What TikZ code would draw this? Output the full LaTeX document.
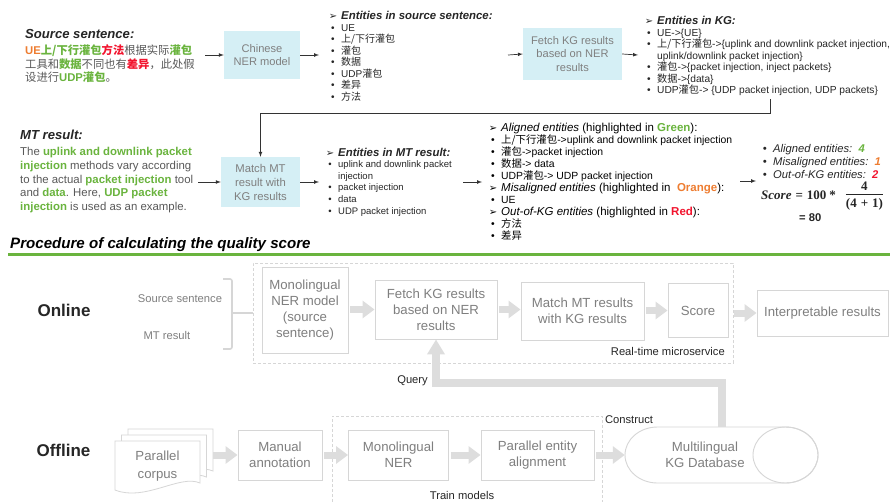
\documentclass[tikz,border=0pt]{standalone}
\usepackage{fontspec}
\setmainfont{Liberation Sans}
\newfontfamily\cjk{Noto Sans CJK SC}
\newfontfamily\dejavu{DejaVu Sans}
\newfontfamily\serifb{Liberation Serif}
\usetikzlibrary{arrows,arrows.meta,calc}
\definecolor{hl01}{HTML}{6AB43E}
\definecolor{hl02}{HTML}{EE7D31}
\definecolor{hl03}{HTML}{F2142E}
\definecolor{gy01}{HTML}{7F7F7F}
\definecolor{gy02}{HTML}{D6D6D6}
\definecolor{gy03}{HTML}{DDDDDD}
\definecolor{gy04}{HTML}{595959}
\definecolor{gy05}{HTML}{262626}
\definecolor{cy01}{HTML}{D5EFF5}
\newcommand{\fs}[2]{\fontsize{#1}{#2}\selectfont}
\newcommand{\zh}[1]{{\cjk #1}}
\newcommand{\zhc}[2]{{\cjk\bfseries\color{#1}#2}}
\newcommand{\gb}[1]{{\color{hl01}\bfseries #1}}
\newcommand{\hd}{\llap{{\dejavu\fs{10}{10}➢}\hspace{4pt}}}
\newcommand{\itm}{\llap{\textbullet\hspace{6.5pt}}}
\newcommand{\hdr}[2]{{\fs{11.5}{12}\textit{#1} #2}}
\tikzset{
  cyanbox/.style={rectangle, fill=cy01, text=gy01, align=center, font=\fs{11.1}{13.5}},
  greybox/.style={rectangle, draw=gy02, line width=0.9pt, fill=white, text=gy01, align=center, font=\fs{13.2}{16}},
  txtblock/.style={anchor=base west, align=left, inner sep=0pt},
  lbl/.style={font=\fs{11.2}{12}, text=gy05, inner sep=0pt},
  flowarr/.style={->, >=latex, line width=0.7pt, black!80},
  blockarr/.style={-{Triangle[length=12pt,width=17pt]}, line width=7pt, gy03},
  dashbox/.style={draw=gy02, line width=0.8pt, dash pattern=on 3pt off 2pt},
  docsheet/.style={draw=gy02, line width=0.8pt, fill=white},
}
\begin{document}
\begin{tikzpicture}[x=1pt,y=-1pt]
  \useasboundingbox (0,0) rectangle (890,501);
  \fill[white] (0,0) rectangle (890,501);

  % worked example, source side (text blocks sit on their last baseline)
  \node[txtblock, font=\fs{13.1}{14}\bfseries\itshape, text=gy05] (srchead) at (25,38) {Source sentence:};
  \node[txtblock, font=\fs{11.3}{13.5}, text=gy04] (srctxt) at (25,81.5)
    {{\color{hl02}\bfseries UE}\zhc{hl01}{上/下行灌包}\zhc{hl03}{方法}\zh{根据实际}\zhc{hl01}{灌包}\\
     \zh{工具和}\zhc{hl01}{数据}\zh{不同也有}\zhc{hl03}{差异}\zh{，此处假}\\
     \zh{设进行}{\color{hl01}\bfseries UDP}\zhc{hl01}{灌包}\zh{。}};
  \node[cyanbox, minimum width=76pt, minimum height=48pt] (ner) at (262,55) {Chinese\\NER model};
  \node[txtblock, font=\fs{10}{11.5}, text=gy05] (srcents) at (341,100)
    {\hd{\fs{11.4}{12}\bfseries\itshape Entities in source sentence:}\\
     \itm UE\\
     \itm\zh{上/下行灌包}\\
     \itm\zh{灌包}\\
     \itm\zh{数据}\\
     \itm UDP\zh{灌包}\\
     \itm\zh{差异}\\
     \itm\zh{方法}};
  \node[cyanbox, minimum width=99pt, minimum height=52pt] (fetch) at (572.5,54) {Fetch KG results\\based on NER\\results};
  \node[txtblock, font=\fs{10.2}{11.5}, text=gy05] (kgents) at (657,93.5)
    {\hd{\fs{11.4}{12}\bfseries\itshape Entities in KG:}\\
     \itm UE->\{UE\}\\
     \itm\zh{上/下行灌包}->\{uplink and downlink packet injection,\\
     uplink/downlink packet injection\}\\
     \itm\zh{灌包}->\{packet injection, inject packets\}\\
     \itm\zh{数据}->\{data\}\\
     \itm UDP\zh{灌包}-> \{UDP packet injection, UDP packets\}};

  % worked example, MT side
  \node[txtblock, font=\fs{13.1}{14}\bfseries\itshape, text=gy05] (mthead) at (20,139.5) {MT result:};
  \node[txtblock, font=\fs{11.4}{13.7}, text=gy04] (mttxt) at (20,210.5)
    {The \gb{uplink and downlink packet}\\
     \gb{injection} methods vary according\\
     to the actual \gb{packet injection} tool\\
     and \gb{data}. Here, \gb{UDP packet}\\
     \gb{injection} is used as an example.};
  \node[cyanbox, minimum width=79pt, minimum height=50pt, font=\fs{11.3}{14}] (match) at (260.5,182) {Match MT\\result with\\KG results};
  \node[txtblock, font=\fs{9.5}{11.6}, text=gy05] (mtents) at (338,214)
    {\hd{\fs{11.4}{12}\bfseries\itshape Entities in MT result:}\\
     \itm uplink and downlink packet\\
     injection\\
     \itm packet injection\\
     \itm data\\
     \itm UDP packet injection};
  \node[txtblock, font=\fs{10.4}{11.9}, text=black] (aligned) at (501,239)
    {\hd\hdr{Aligned entities}{(highlighted in {\color{hl01}\bfseries Green}):}\\
     \itm\zh{上/下行灌包}->uplink and downlink packet injection\\
     \itm\zh{灌包}->packet injection\\
     \itm\zh{数据}-> data\\
     \itm UDP\zh{灌包}-> UDP packet injection\\
     \hd\hdr{Misaligned entities}{(highlighted in\ \ {\color{hl02}\bfseries Orange}):}\\
     \itm UE\\
     \hd\hdr{Out-of-KG entities}{(highlighted in {\color{hl03}\bfseries Red}):}\\
     \itm\zh{方法}\\
     \itm\zh{差异}};
  \node[txtblock, font=\fs{11.2}{13.3}\itshape, text=gy05] (counts) at (773,178.6)
    {\itm Aligned entities:\ \ {\color{hl01}\bfseries 4}\\
     \itm Misaligned entities:\ \ {\color{hl02}\bfseries 1}\\
     \itm Out-of-KG entities:\ \ {\color{hl03}\bfseries 2}};
  \node[anchor=west, inner sep=0pt, text=gy05, font=\serifb\fs{13}{14}\bfseries] (formula) at (761,196)
    {\textit{Score}\hspace{4pt}=\hspace{4pt}100\hspace{3pt}*\hspace{10pt}\begin{tabular}{@{}c@{}}4\\[-1pt]\hline\rule{0pt}{13pt}(4\hspace{4pt}+\hspace{4pt}1)\end{tabular}};
  \node[txtblock, font=\fs{11.2}{13}\bfseries, text=gy05] (total) at (799,221) {= 80};

  \coordinate (srcout) at (205,55);
  \coordinate (srcin) at (319,55);
  \coordinate (srcout2) at (508,55);
  \coordinate (kgin) at (638,55);
  \coordinate (kgtap) at (770,99);
  \coordinate (mtout) at (198,182);
  \coordinate (mtin) at (319,182);
  \coordinate (mtout2) at (463,182);
  \coordinate (alin) at (482,182);
  \coordinate (alout) at (740,181);
  \coordinate (scin) at (756,181);
  \draw[flowarr] (srcout) -- (ner.west);
  \draw[flowarr] (ner.east) -- (srcin);
  \draw[flowarr] (srcout2) -- (fetch.west);
  \draw[flowarr] (fetch.east) -- (kgin);
  \draw[flowarr] (kgtap) -- ++(0,14) -| (match.north);
  \draw[flowarr] (mtout) -- (match.west);
  \draw[flowarr] (match.east) -- (mtin);
  \draw[flowarr] (mtout2) -- (alin);
  \draw[flowarr] (alout) -- (scin);

  % procedure
  \node[txtblock, font=\fs{15.1}{16}\bfseries\itshape, text=black] (title) at (10,248.5) {Procedure of calculating the quality score};
  \draw[line width=2.6pt, hl01] (8,254.5) -- (890,254.5);

  \node[font=\fs{17}{18}\bfseries, text=gy05] (online) at (64,310) {Online};
  \node[font=\fs{11.2}{12}, text=gy01] (insrc) at (180,299) {Source sentence};
  \node[font=\fs{11.2}{12}, text=gy01] (inmt) at (167,335) {MT result};
  \node[dashbox, minimum width=480pt, minimum height=100pt, inner sep=0pt] (rtbox) at (493,313) {};
  \coordinate (brc) at (232,313);
  \draw[gy02, line width=1.6pt, rounded corners=2pt] (223,279) -| (brc) |- (223,349);
  \draw[gy02, line width=1.6pt] (brc) -- (rtbox.west);

  \node[greybox, minimum width=86pt, minimum height=86pt] (mono) at (305,310) {Monolingual\\NER model\\(source\\sentence)};
  \node[greybox, minimum width=122pt, minimum height=59pt] (fetch2) at (436,309.5) {Fetch KG results\\based on NER\\results};
  \node[greybox, minimum width=123pt, minimum height=58pt] (match2) at (582.5,311) {Match MT results\\with KG results};
  \node[greybox, minimum width=60pt, minimum height=54pt] (score2) at (698,310.5) {Score};
  \node[greybox, minimum width=131pt, minimum height=46pt] (interp) at (822.5,313) {Interpretable results};
  \node[lbl, anchor=base east] (rtlbl) at (725,355) {Real-time microservice};

  \draw[blockarr, shorten <=2pt] (mono.east |- fetch2.west) -- (fetch2.west);
  \draw[blockarr, shorten <=2pt] (fetch2.east) -- (fetch2.east -| match2.west);
  \draw[blockarr, shorten <=2pt] (match2.east |- score2.west) -- (score2.west);
  \draw[blockarr, shorten <=6pt] (score2.east |- interp.west) -- (interp.west);

  \node[font=\fs{17}{18}\bfseries, text=gy05] (offline) at (63.5,450) {Offline};
  \foreach \k in {2,1,0}
    \draw[docsheet, shift={(6.5*\k,-6*\k)}] (115,441) -- (200,441) -- (200,483)
      .. controls (180,474) and (145,502) .. (115,490) -- cycle;
  \node[font=\fs{13.2}{18}, text=gy01, minimum width=85pt, minimum height=50pt, align=center] (corpus) at (157.5,466) {Parallel\\corpus};
  \node[greybox, minimum width=84pt, minimum height=50pt] (manual) at (280,455) {Manual\\annotation};
  \node[greybox, minimum width=100pt, minimum height=50pt] (mono2) at (398.5,455) {Monolingual\\NER};
  \node[greybox, minimum width=113pt, minimum height=50pt] (entalign) at (537.5,455) {Parallel entity\\alignment};
  % database drum lying on its side
  \node[minimum width=193pt, minimum height=56pt, inner sep=0pt] (kgdb) at (721.5,455) {};
  \draw[docsheet, line width=0.9pt] (657.5,427) -- (785.5,427) arc (-90:90:32.5 and 28)
    -- (657.5,483) arc (90:270:32.5 and 28) -- cycle;
  \draw[gy02, line width=0.9pt] (785.5,455) ellipse (32.5 and 28);
  \node[text=gy01, align=center, font=\fs{13.2}{16}] (kgtxt) at (705,455) {Multilingual\\KG Database};
  \draw[dashbox] (332,502) |- (602,416) -- (602,502);
  \node[lbl] (trlbl) at (462,495) {Train models};
  \node[lbl] (cnlbl) at (629,420) {Construct};

  \draw[blockarr, shorten <=13pt] (manual.west -| corpus.east) -- (manual.west);
  \draw[blockarr, shorten <=2pt] (manual.east) -- (mono2.west);
  \draw[blockarr, shorten <=2pt] (mono2.east) -- (entalign.west);
  \draw[blockarr, shorten <=2pt] (entalign.east) -- (kgdb.west);
  % lookup from the database
  \draw[blockarr, line width=8pt, -{Triangle[length=15pt,width=17pt]}] (kgdb.north) -- ++(0,-44) -| (fetch2.south);
  \node[lbl, anchor=east] (qlbl) at (428,381) {Query};
\end{tikzpicture}
\end{document}
